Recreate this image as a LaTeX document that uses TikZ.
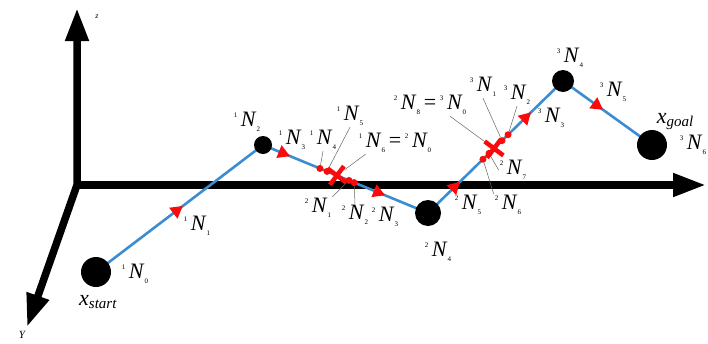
\documentclass[tikz,border=0pt]{standalone}
\usepackage{fontspec}
\setmainfont{Liberation Serif}
\usetikzlibrary{arrows.meta,decorations.markings,backgrounds,shapes.misc}
\definecolor{pathcol}{RGB}{60,140,210}
\definecolor{markcol}{RGB}{250,10,10}
% label N with left superscript and subscript
\newcommand\NN[2]{\raisebox{0.9ex}{\fontsize{7}{7}\selectfont #1}\,\textit{N}\raisebox{-0.55ex}{\fontsize{7}{7}\selectfont #2}}
\newcommand\xsub[1]{\textit{x}\raisebox{-0.3ex}{\fontsize{15}{15}\selectfont\textit{#1}}}
\tikzset{
  % axis
  axis/.style={line width=7.5pt, -{Triangle[length=33pt,width=22pt]}},
  % waypoint
  wpoint/.style={circle, fill=black, inner sep=0pt, minimum size=#1},
  % path segment
  seg/.style={draw=pathcol, line width=2.6pt},
  % direction triangle
  dirmark/.style={postaction={decorate, decoration={markings,
    mark=at position #1 with {\arrow[markcol]{Triangle[length=12pt,width=13pt]}}}}},
  % sample dot
  sdot/.style={circle, fill=markcol, inner sep=0pt, minimum size=7pt},
  % junction cross
  xmark/.style={cross out, draw=markcol, line width=4.5pt, minimum size=12pt, inner sep=0pt, rotate=8},
  % leader line
  leader/.style={draw=black!60, line width=0.5pt},
  % text label
  nlabel/.style={font=\fontsize{22}{25}\selectfont, inner sep=1pt},
}
\begin{document}
\begin{tikzpicture}[x=1pt,y=-1pt]
  \useasboundingbox (0,0) rectangle (708,343);
  \coordinate (O) at (77,185);
  \coordinate (ztip) at (77,8);
  \coordinate (ytip) at (27,327);
  \coordinate (xtip) at (706,185);
  \node[font=\fontsize{8}{8}\selectfont\itshape] (zl) at (97,17) {z};
  \node[font=\fontsize{11}{11}\selectfont\itshape, inner sep=0pt] (yl) at (22,335) {Y};

  % waypoints
  \node[wpoint=30pt] (n10) at (96,272) {};
  \node[wpoint=18pt] (n12) at (263,145) {};
  \node[wpoint=26pt] (n24) at (428,213) {};
  \node[wpoint=22pt] (n34) at (563,81) {};
  \node[wpoint=30pt] (ng) at (652,145) {};

  \begin{scope}[on background layer]
    \draw[line width=7.5pt, {Triangle[length=33pt,width=22pt]}-{Triangle[length=33pt,width=22pt]}]
      (ztip) -- (O) -- (ytip);
    \draw[axis] ([xshift=-3pt]O) -- (xtip);
    \draw[seg, dirmark=0.52] (n10.center) -- (n12.center);
    \draw[seg, dirmark=0.164, dirmark=0.74] (n12.center) -- (n24.center);
    \draw[seg, dirmark=0.237, dirmark=0.763] (n24.center) -- (n34.center);
    \draw[seg, dirmark=0.45] (n34.center) -- (ng.center);
  \end{scope}

  % sample points
  \path (n12.center) -- (n24.center)
    node[sdot, pos=0.345] (a4) {}
    node[sdot, pos=0.388] (a5) {}
    node[xmark, pos=0.448] (a6) {}
    node[sdot, pos=0.521] (b1) {}
    node[sdot, pos=0.552] (b2) {};
  \path (n24.center) -- (n34.center)
    node[sdot, pos=0.407] (c6) {}
    node[sdot, pos=0.452] (c7) {}
    node[xmark, pos=0.489] (c8) {}
    node[sdot, pos=0.548] (e1) {}
    node[sdot, pos=0.593] (e2) {};

  % labels
  \node[nlabel] (l10) at (135,274) {\NN{1}{0}};
  \node[nlabel] (l11) at (197,226) {\NN{1}{1}};
  \node[nlabel] (l12) at (247,122) {\NN{1}{2}};
  \node[nlabel] (l13) at (292,140) {\NN{1}{3}};
  \node[nlabel] (l14) at (323,140) {\NN{1}{4}};
  \node[nlabel] (l15) at (350,116) {\NN{1}{5}};
  \node[nlabel] (l16) at (395,143) {\NN{1}{6}\,=\,\NN{2}{0}};
  \node[nlabel] (l21) at (318,208) {\NN{2}{1}};
  \node[nlabel] (l22) at (355,215) {\NN{2}{2}};
  \node[nlabel] (l23) at (385,217) {\NN{2}{3}};
  \node[nlabel] (l24) at (438,252) {\NN{2}{4}};
  \node[nlabel] (l25) at (468,205) {\NN{2}{5}};
  \node[nlabel] (l26) at (508,205) {\NN{2}{6}};
  \node[nlabel] (l27) at (513,170) {\NN{2}{7}};
  \node[nlabel] (l28) at (430,105) {\NN{2}{8}\,=\,\NN{3}{0}};
  \node[nlabel] (l31) at (483,87) {\NN{3}{1}};
  \node[nlabel] (l32) at (517,95) {\NN{3}{2}};
  \node[nlabel] (l33) at (551,118) {\NN{3}{3}};
  \node[nlabel] (l34) at (570,58) {\NN{3}{4}};
  \node[nlabel] (l35) at (613,92) {\NN{3}{5}};
  \node[nlabel] (l36) at (693,145) {\NN{3}{6}};
  \node[nlabel] (xs) at (98,302) {\xsub{start}};
  \node[nlabel] (xg) at (675,122) {\xsub{goal}};

  % leader lines
  \draw[leader] (l14.south) -- (a4);
  \draw[leader] (l15.south) -- (a5);
  \draw[leader] ([xshift=8pt]l16.south west) -- (a6);
  \draw[leader] (l21.north east) -- (b1);
  \draw[leader] (l22.north) -- (b2);
  \draw[leader] (l26.north west) -- (c6);
  \draw[leader] (l27.west) -- (c7);
  \draw[leader] ([xshift=20pt]l28.south) -- (c8);
  \draw[leader] (l31.south) -- (e1);
  \draw[leader] (l32.south) -- (e2);
\end{tikzpicture}
\end{document}
